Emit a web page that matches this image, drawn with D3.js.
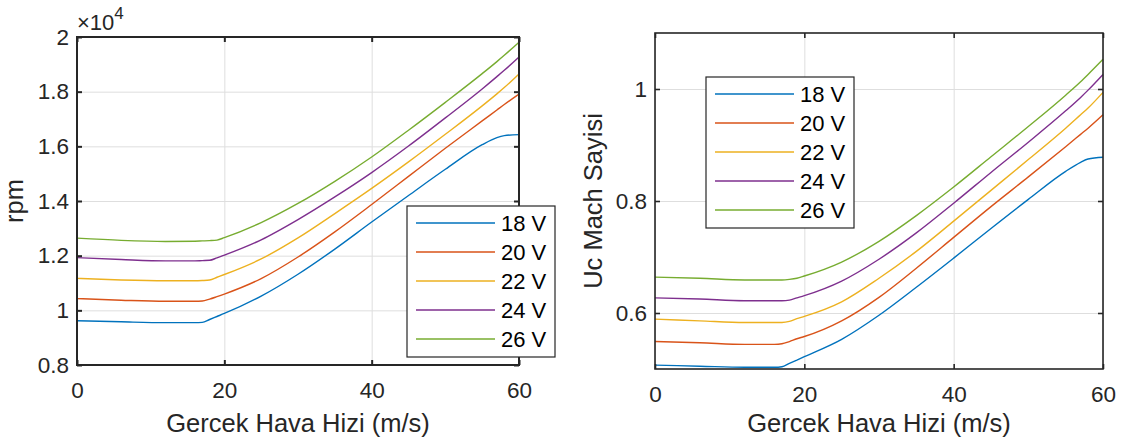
<!DOCTYPE html>
<html>

<head>
  <title>RPM ve Uc Mach Sayisi</title>
  <script src="https://cdn.jsdelivr.net/npm/d3@7"></script>
  <style>
    body { margin: 0; background: #fff; }
    text { font-family: "Liberation Sans", Arial, Helvetica, sans-serif; }
  </style>
</head>

<body>
  <svg width="1121" height="448" id="mainsvg" style="display: block;"></svg>
  <script>
    // Gercek hava hizi (m/s)
    const speed = [0, 6, 12, 16, 17, 18, 19, 20, 25, 30, 35, 40, 45, 50, 55, 57, 58, 60];
    const voltages = ['18 V', '20 V', '22 V', '24 V', '26 V'];

    // rpm
    const rpm18 = [9620, 9580, 9550, 9550, 9560, 9665, 9775, 9885, 10520, 11320, 12240, 13230, 14200, 15160, 16060, 16320, 16390, 16430];
    const rpm20 = [10430, 10370, 10330, 10330, 10340, 10410, 10500, 10595, 11160, 11950, 12870, 13870, 14900, 15930, 16930, 17330, 17530, 17910];
    const rpm22 = [11170, 11110, 11080, 11080, 11090, 11110, 11210, 11310, 11880, 12650, 13540, 14460, 15430, 16440, 17480, 17920, 18150, 18650];
    const rpm24 = [11930, 11860, 11810, 11810, 11820, 11830, 11920, 12020, 12580, 13320, 14150, 15040, 16010, 17040, 18100, 18550, 18780, 19270];
    const rpm26 = [12640, 12560, 12520, 12530, 12540, 12550, 12570, 12660, 13210, 13910, 14720, 15610, 16590, 17610, 18660, 19100, 19330, 19810];

    // uc mach sayisi
    const mach18 = [0.507, 0.505, 0.503, 0.503, 0.504, 0.510, 0.516, 0.522, 0.553, 0.596, 0.646, 0.698, 0.751, 0.803, 0.853, 0.869, 0.875, 0.878];
    const mach20 = [0.549, 0.547, 0.544, 0.544, 0.545, 0.549, 0.554, 0.558, 0.586, 0.628, 0.680, 0.735, 0.790, 0.843, 0.897, 0.919, 0.930, 0.954];
    const mach22 = [0.589, 0.586, 0.583, 0.583, 0.583, 0.585, 0.590, 0.594, 0.620, 0.662, 0.710, 0.764, 0.819, 0.874, 0.930, 0.954, 0.966, 0.994];
    const mach24 = [0.627, 0.625, 0.622, 0.622, 0.622, 0.623, 0.627, 0.631, 0.657, 0.696, 0.743, 0.796, 0.851, 0.905, 0.961, 0.985, 0.998, 1.026];
    const mach26 = [0.664, 0.662, 0.659, 0.659, 0.659, 0.660, 0.662, 0.666, 0.691, 0.728, 0.774, 0.825, 0.879, 0.933, 0.989, 1.013, 1.026, 1.053];

    const xTicks = [0, 20, 40, 60];
    const rpmTicks = [8000, 10000, 12000, 14000, 16000, 18000, 20000];
    const machTicks = [0.6, 0.8, 1.0];
    const colors = ['#0072BD', '#D95319', '#EDB120', '#7E2F8E', '#77AC30'];

    const svg = d3.select('#mainsvg');
    const ink = '#262626';

    const drawPanel = function (p) {
      const x = d3.scaleLinear().domain([0, 60]).range([p.left, p.right]);
      const y = d3.scaleLinear().domain(p.yDomain).range([p.bottom, p.top]);
      const w = p.right - p.left;
      const h = p.bottom - p.top;
      const g = svg.append('g');

      // grid
      g.append('g')
        .attr('transform', `translate(0, ${p.bottom})`)
        .call(d3.axisBottom(x).tickValues(xTicks).tickSize(-h).tickFormat(''))
        .call(a => a.select('.domain').remove())
        .selectAll('line').attr('stroke', '#dedede').attr('stroke-width', 1);
      g.append('g')
        .attr('transform', `translate(${p.left}, 0)`)
        .call(d3.axisLeft(y).tickValues(p.yTicks).tickSize(-w).tickFormat(''))
        .call(a => a.select('.domain').remove())
        .selectAll('line').attr('stroke', '#dedede').attr('stroke-width', 1);

      // curves
      const line = d3.line()
        .x((d, i) => x(speed[i]))
        .y(d => y(d))
        .curve(d3.curveMonotoneX);
      g.selectAll('.dataline')
        .data(p.series)
        .join('path')
        .attr('class', 'dataline')
        .attr('d', line)
        .attr('fill', 'none')
        .attr('stroke', (d, i) => colors[i])
        .attr('stroke-width', 1.4);

      // box
      g.append('rect')
        .attr('x', p.left).attr('y', p.top)
        .attr('width', w).attr('height', h)
        .attr('fill', 'none')
        .attr('stroke', ink)
        .attr('stroke-width', p.boxWidth);

      // axes, ticks pointing inward
      const axes = [
        [d3.axisBottom(x).tickValues(xTicks).tickPadding(17), `translate(0, ${p.bottom})`],
        [d3.axisTop(x).tickValues(xTicks).tickFormat(''), `translate(0, ${p.top})`],
        [d3.axisLeft(y).tickValues(p.yTicks).tickPadding(8).tickFormat(p.yFormat), `translate(${p.left}, 0)`],
        [d3.axisRight(y).tickValues(p.yTicks).tickFormat(''), `translate(${p.right}, 0)`]
      ];
      axes.forEach(([axis, tr]) => {
        g.append('g')
          .attr('transform', tr)
          .call(axis.tickSize(-5))
          .call(a => a.select('.domain').remove())
          .call(a => a.selectAll('line').attr('stroke', ink).attr('stroke-width', p.boxWidth))
          .call(a => a.selectAll('text')
            .attr('fill', ink)
            .attr('font-size', 22.5)
            .attr('font-family', '"Liberation Sans", Arial, sans-serif'));
      });

      // axis labels
      g.append('text')
        .attr('x', (p.left + p.right) / 2)
        .attr('y', 432)
        .attr('text-anchor', 'middle')
        .attr('font-size', 25.5)
        .attr('fill', ink)
        .text('Gercek Hava Hizi (m/s)');
      g.append('text')
        .attr('transform', `translate(${p.yLabelX}, ${(p.top + p.bottom) / 2}) rotate(-90)`)
        .attr('text-anchor', 'middle')
        .attr('font-size', 25.5)
        .attr('fill', ink)
        .text(p.yLabel);

      // legend
      const lg = g.append('g').attr('transform', `translate(${p.legend[0]}, ${p.legend[1]})`);
      lg.append('rect')
        .attr('width', 148).attr('height', 151)
        .attr('fill', '#fff')
        .attr('stroke', ink)
        .attr('stroke-width', 1.2);
      const item = lg.selectAll('.item')
        .data(voltages)
        .join('g')
        .attr('class', 'item')
        .attr('transform', (d, i) => `translate(0, ${17 + i * 29})`);
      item.append('line')
        .attr('x1', 9).attr('x2', 88)
        .attr('stroke', (d, i) => colors[i])
        .attr('stroke-width', 1.5);
      item.append('text')
        .attr('x', 94)
        .attr('dy', '0.36em')
        .attr('font-size', 22)
        .attr('fill', '#000')
        .text(d => d);

      return g;
    };

    const left = drawPanel({
      left: 77, right: 519, top: 37, bottom: 365, boxWidth: 2,
      yDomain: [8000, 20000], yTicks: rpmTicks,
      yFormat: d => String(+(d / 1e4).toFixed(1)),
      series: [rpm18, rpm20, rpm22, rpm24, rpm26],
      yLabel: 'rpm', yLabelX: 23,
      legend: [407, 206]
    });

    // exponent of the rpm axis
    const expo = left.append('text')
      .attr('x', 77).attr('y', 30)
      .attr('fill', ink);
    expo.append('tspan').attr('font-size', 22).text('\u00d710');
    expo.append('tspan').attr('font-size', 17).attr('dy', -11).text('4');

    drawPanel({
      left: 655, right: 1103, top: 33, bottom: 369, boxWidth: 1.6,
      yDomain: [0.5, 1.1], yTicks: machTicks,
      yFormat: d => String(+d.toFixed(1)),
      series: [mach18, mach20, mach22, mach24, mach26],
      yLabel: 'Uc Mach Sayisi', yLabelX: 602,
      legend: [706, 77]
    });
  </script>
</body>

</html>
